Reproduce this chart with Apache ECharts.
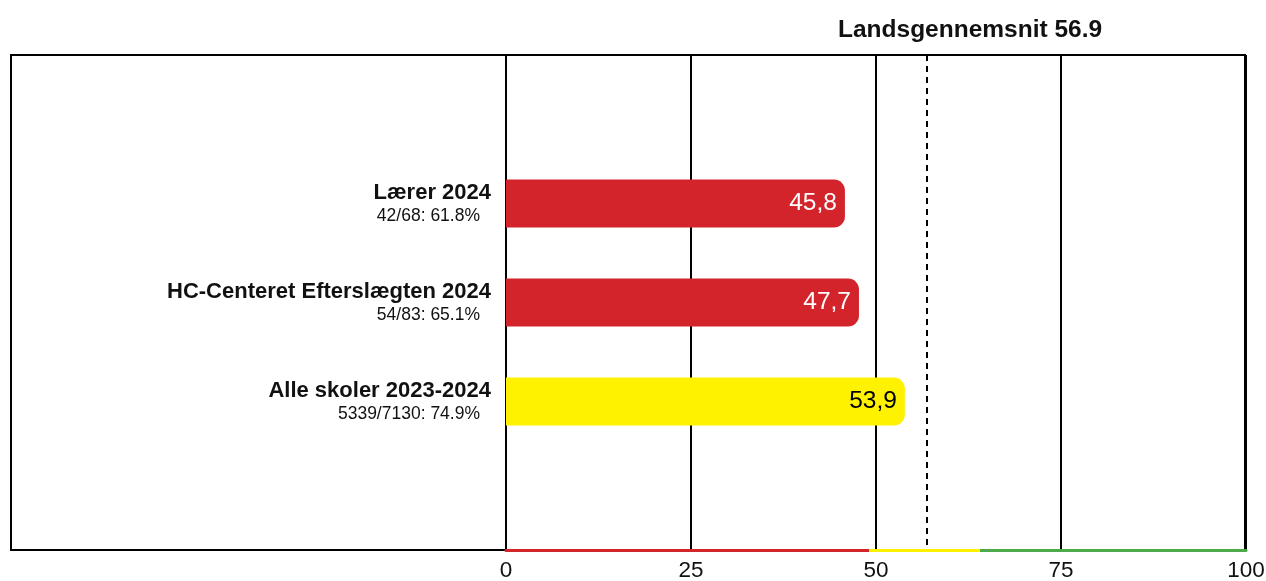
<!DOCTYPE html>
<html>
<head>
<meta charset="utf-8">
<script src="https://cdn.jsdelivr.net/npm/echarts@6/dist/echarts.min.js"></script>
<style>
  html, body { margin: 0; padding: 0; background: #fff; }
  #main { width: 1266px; height: 581px; }
</style>
</head>
<body>
<div id="main"></div>
<script>
// data
const categories = ["Lærer 2024", "HC-Centeret Efterslægten 2024", "Alle skoler 2023-2024"];
const subLabels = ["42/68: 61.8%", "54/83: 65.1%", "5339/7130: 74.9%"];
const values = [45.8, 47.7, 53.9];
const nationalAvg = 56.9;
const zoneBreaks = [49, 64]; // rød / gul / grøn
const xTicks = [0, 25, 50, 75, 100];

const RED = "#d4242b";
const YELLOW = "#fff200";
const GREEN = "#4caa4a";
const FONT = "'Liberation Sans', Arial, sans-serif";

const zoneColor = (v) => (v < zoneBreaks[0] ? RED : v < zoneBreaks[1] ? YELLOW : GREEN);

// tom plads over og under søjlerne
const yCats = [""].concat(categories, [""]);
const subMap = {};
categories.forEach((c, i) => (subMap[c] = subLabels[i]));
const barData = ["-"].concat(
  values.map((v) => ({
    value: v,
    itemStyle: { color: zoneColor(v) },
    label: { color: zoneColor(v) === YELLOW ? "#000" : "#fff" },
  })),
  ["-"]
);

const xMin = xTicks[0];
const xMax = xTicks[xTicks.length - 1];
const f1 = (zoneBreaks[0] - xMin) / (xMax - xMin);
const f2 = (zoneBreaks[1] - xMin) / (xMax - xMin);

const chart = echarts.init(document.getElementById("main"));
chart.setOption({
  animation: false,
  textStyle: { fontFamily: FONT },
  title: {
    text: "Landsgennemsnit " + nationalAvg,
    left: 838,
    top: 18,
    padding: 0,
    textStyle: { fontSize: 24.5, fontWeight: "bold", color: "#111", fontFamily: FONT },
  },
  graphic: [
    {
      type: "rect",
      z: -1,
      shape: { x: 11, y: 55, width: 1234, height: 495 },
      style: { fill: "none", stroke: "#000", lineWidth: 2 },
    },
  ],
  grid: { left: 506, right: 20, top: 55, bottom: 31, outerBoundsMode: "none", containLabel: false },
  xAxis: {
    type: "value",
    min: xMin,
    max: xMax,
    interval: 25,
    axisLine: {
      show: true,
      lineStyle: {
        width: 3,
        color: new echarts.graphic.LinearGradient(0, 0, 1, 0, [
          { offset: 0, color: RED },
          { offset: f1, color: RED },
          { offset: f1, color: YELLOW },
          { offset: f2, color: YELLOW },
          { offset: f2, color: GREEN },
          { offset: 1, color: GREEN },
        ]),
      },
    },
    axisTick: { show: false },
    axisLabel: { fontSize: 22.5, color: "#111", margin: 9, fontFamily: FONT },
    splitLine: { show: true, lineStyle: { color: "#000", width: 2 } },
  },
  yAxis: {
    type: "category",
    data: yCats,
    inverse: true,
    axisTick: { show: false },
    axisLine: { show: true, lineStyle: { color: "#000", width: 2 } },
    axisLabel: {
      margin: 15,
      align: "right",
      formatter: function (name) {
        if (!name) return "";
        return "{b|" + name + "}\n{s|" + subMap[name] + "}";
      },
      rich: {
        b: { fontSize: 22, fontWeight: "bold", color: "#111", lineHeight: 26, align: "right", fontFamily: FONT },
        s: { fontSize: 17.5, color: "#111", lineHeight: 22, align: "right", padding: [0, 11, 0, 0], fontFamily: FONT },
      },
    },
  },
  series: [
    {
      type: "bar",
      data: barData,
      barWidth: 48,
      itemStyle: { borderRadius: [0, 11, 11, 0] },
      label: {
        show: true,
        position: "insideRight",
        distance: 8,
        fontSize: 24.5,
        fontFamily: FONT,
        formatter: function (p) {
          return p.value.toFixed(1).replace(".", ",");
        },
      },
      markLine: {
        silent: true,
        symbol: "none",
        label: { show: false },
        lineStyle: { color: "#000", width: 2, type: [6, 5] },
        data: [{ xAxis: nationalAvg }],
      },
    },
  ],
});
</script>
</body>
</html>
